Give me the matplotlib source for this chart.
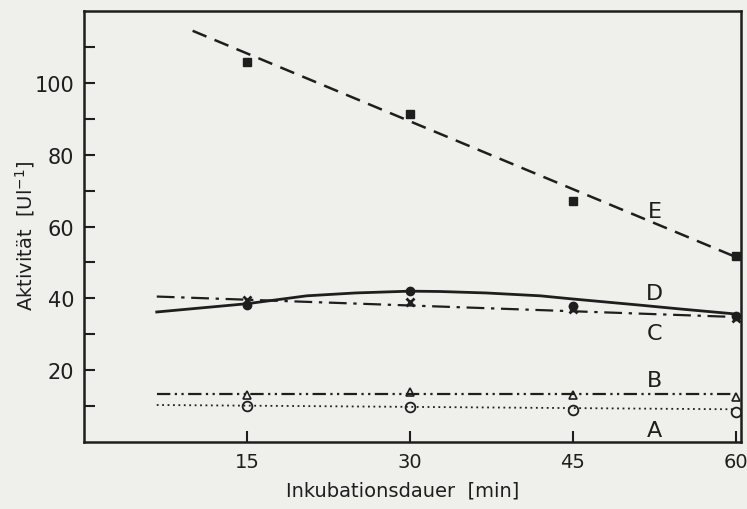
import numpy as np
import matplotlib.pyplot as plt

t = [15, 30, 45, 60]
act_A = [10.1, 9.8, 8.9, 8.4]     # open circles
act_B = [13.0, 14.0, 13.2, 12.6]  # open triangles
act_C = [39.6, 39.0, 37.0, 34.4]  # crosses
act_D = [38.1, 42.0, 38.0, 35.0]  # filled circles
act_E = [105.9, 91.3, 67.2, 51.9] # filled squares

# Fitted curves as drawn in the figure
fit_x_A = [6.7, 60]
fit_y_A = [10.3, 9.1]
fit_x_B = [6.7, 60]
fit_y_B = [13.5, 13.5]
fit_x_C = [6.7, 60]
fit_y_C = [40.5, 34.8]
fit_x_D = [6.7, 15, 20.5, 25, 30, 32.8, 37, 42, 44.7, 51.2, 55, 59.4, 60]
fit_y_D = [36.2, 38.5, 40.7, 41.5, 42.0, 41.9, 41.5, 40.7, 39.9, 38.1, 37.0, 35.8, 35.6]
fit_x_E = [10, 60]
fit_y_E = [114.5, 51.5]

labels = ['A', 'B', 'C', 'D', 'E']
label_y = [3.3, 17.2, 30.3, 41.4, 64.4]

bg = '#efefec'
ink = '#1e1e1e'

fig = plt.figure(figsize=(7.47, 5.10), dpi=100, facecolor=bg)
ax = fig.add_axes([0.1124, 0.1314, 0.880, 0.845], facecolor=bg)

# A: dotted line, open circles
ax.plot(fit_x_A, fit_y_A, color=ink, lw=1.3, ls=(0, (1, 2)))
ax.plot(t, act_A, 'o', ms=7, mfc='none', mec=ink, mew=1.3)
# B: dash-dot-dot line, open triangles
ax.plot(fit_x_B, fit_y_B, color=ink, lw=1.6, ls=(0, (6, 2, 1, 2, 1, 2)))
ax.plot(t, act_B, '^', ms=6, mfc='none', mec=ink, mew=1.2)
# C: dash-dot line, crosses
ax.plot(fit_x_C, fit_y_C, color=ink, lw=1.6, ls=(0, (8, 3, 1.5, 3)))
ax.plot(t, act_C, 'x', ms=6, mec=ink, mew=2)
# D: solid curve, filled circles
ax.plot(fit_x_D, fit_y_D, color=ink, lw=2)
ax.plot(t, act_D, 'o', ms=6, color=ink)
# E: dashed line, filled squares
ax.plot(fit_x_E, fit_y_E, color=ink, lw=1.8, ls=(0, (6, 3.5)))
ax.plot(t, act_E, 's', ms=6, color=ink)

for lab, ly in zip(labels, label_y):
    ax.text(52.5, ly, lab, fontsize=16, color=ink, ha='center', va='center')

ax.set_xlim(0, 60.5)
ax.set_ylim(0, 120)
ax.set_xticks(t)
ax.set_yticks([20, 40, 60, 80, 100])
ax.set_yticks(np.arange(10, 120, 20), minor=True)
ax.tick_params(which='both', direction='in', length=8, width=1.5, colors=ink,
               labelsize=15, pad=7)
ax.tick_params(axis='x', labelsize=14)
for s in ax.spines.values():
    s.set_linewidth(1.8)
    s.set_color(ink)

ax.set_xlabel('Inkubationsdauer  [min]', fontsize=14, color=ink)
ax.set_ylabel('Aktivität  [Ul$^{-1}$]', fontsize=14, color=ink)
ax.xaxis.set_label_coords(0.485, -0.09)
ax.yaxis.set_label_coords(-0.072, 0.48)

fig.savefig('out.png', dpi=100, facecolor=bg)
